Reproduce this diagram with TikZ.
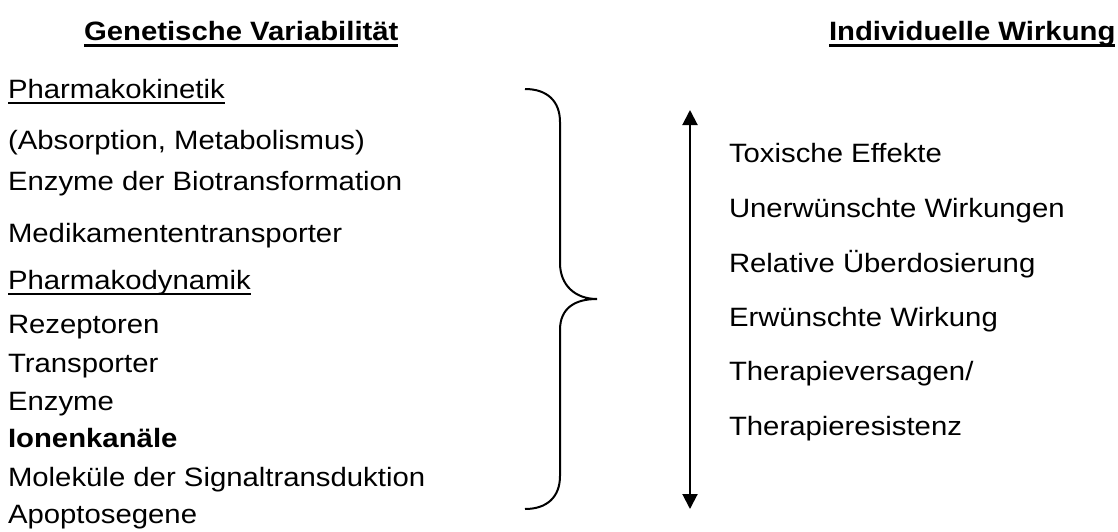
\documentclass[tikz,border=0pt]{standalone}
\usepackage{fontspec}
\setmainfont{Liberation Sans}[FakeStretch=1.105]
\usetikzlibrary{arrows.meta}
\begin{document}
\begin{tikzpicture}[x=0.75pt,y=-0.75pt,
  txt/.style={anchor=base west,inner sep=0pt,outer sep=0pt,font=\fontsize{19.9pt}{23pt}\selectfont},
  head/.style={txt,font=\fontsize{19.9pt}{23pt}\selectfont\bfseries},
  uline/.style={line width=1.5pt},
  huline/.style={line width=2.4pt},
  brace/.style={line width=1.5pt},
  dblarrow/.style={line width=1.5pt,{Triangle[width=11.25pt,length=11.25pt]}-{Triangle[width=11.25pt,length=11.25pt]}}]
\useasboundingbox (0,0) rectangle (1118,532);
% headers
\node[head] (h1) at (84,40) {Genetische Variabilität};
\node[head] (h2) at (829,40) {Individuelle Wirkung};
\draw[huline] ([yshift=-3.9pt]h1.base west) -- ([yshift=-3.9pt]h1.base east);
\draw[huline] ([yshift=-3.9pt]h2.base west) -- ([yshift=-3.9pt]h2.base east);
% left column
\node[txt] (pk) at (8,98) {Pharmakokinetik};
\node[txt] (abs) at (8,149) {(Absorption, Metabolismus)};
\node[txt] (bio) at (8,190) {Enzyme der Biotransformation};
\node[txt] (med) at (8,242) {Medikamententransporter};
\node[txt] (pd) at (8,289) {Pharmakodynamik};
\node[txt] (rez) at (8,333) {Rezeptoren};
\node[txt] (tra) at (8,372) {Transporter};
\node[txt] (enz) at (8,410) {Enzyme};
\node[txt,font=\fontsize{19.9pt}{23pt}\selectfont\bfseries] (ion) at (8,447) {Ionenkanäle};
\node[txt] (mol) at (8,486) {Moleküle der Signaltransduktion};
\node[txt] (apo) at (8,523) {Apoptosegene};
\draw[uline] ([yshift=-3.4pt]pk.base west) -- ([yshift=-3.4pt]pk.base east);
\draw[uline] ([yshift=-3.4pt]pd.base west) -- ([yshift=-3.4pt]pd.base east);
% brace
\draw[brace] (525,89) .. controls (547,89) and (560,101) .. (560,122)
  -- (560,263) .. controls (560,285) and (575,299) .. (597,299)
  .. controls (575,299) and (560,308) .. (560,330)
  -- (560,476) .. controls (560,497) and (547,509) .. (525,509);
% arrow
\coordinate (atop) at (690,110);
\coordinate (abot) at (690,509);
\draw[dblarrow] (atop) -- (abot);
% right column
\node[txt] (tox) at (729,162) {Toxische Effekte};
\node[txt] (unw) at (729,217) {Unerwünschte Wirkungen};
\node[txt] (rel) at (729,272) {Relative Überdosierung};
\node[txt] (erw) at (729,326) {Erwünschte Wirkung};
\node[txt] (tv) at (729,380) {Therapieversagen/};
\node[txt] (tr) at (729,435) {Therapieresistenz};
\end{tikzpicture}
\end{document}
